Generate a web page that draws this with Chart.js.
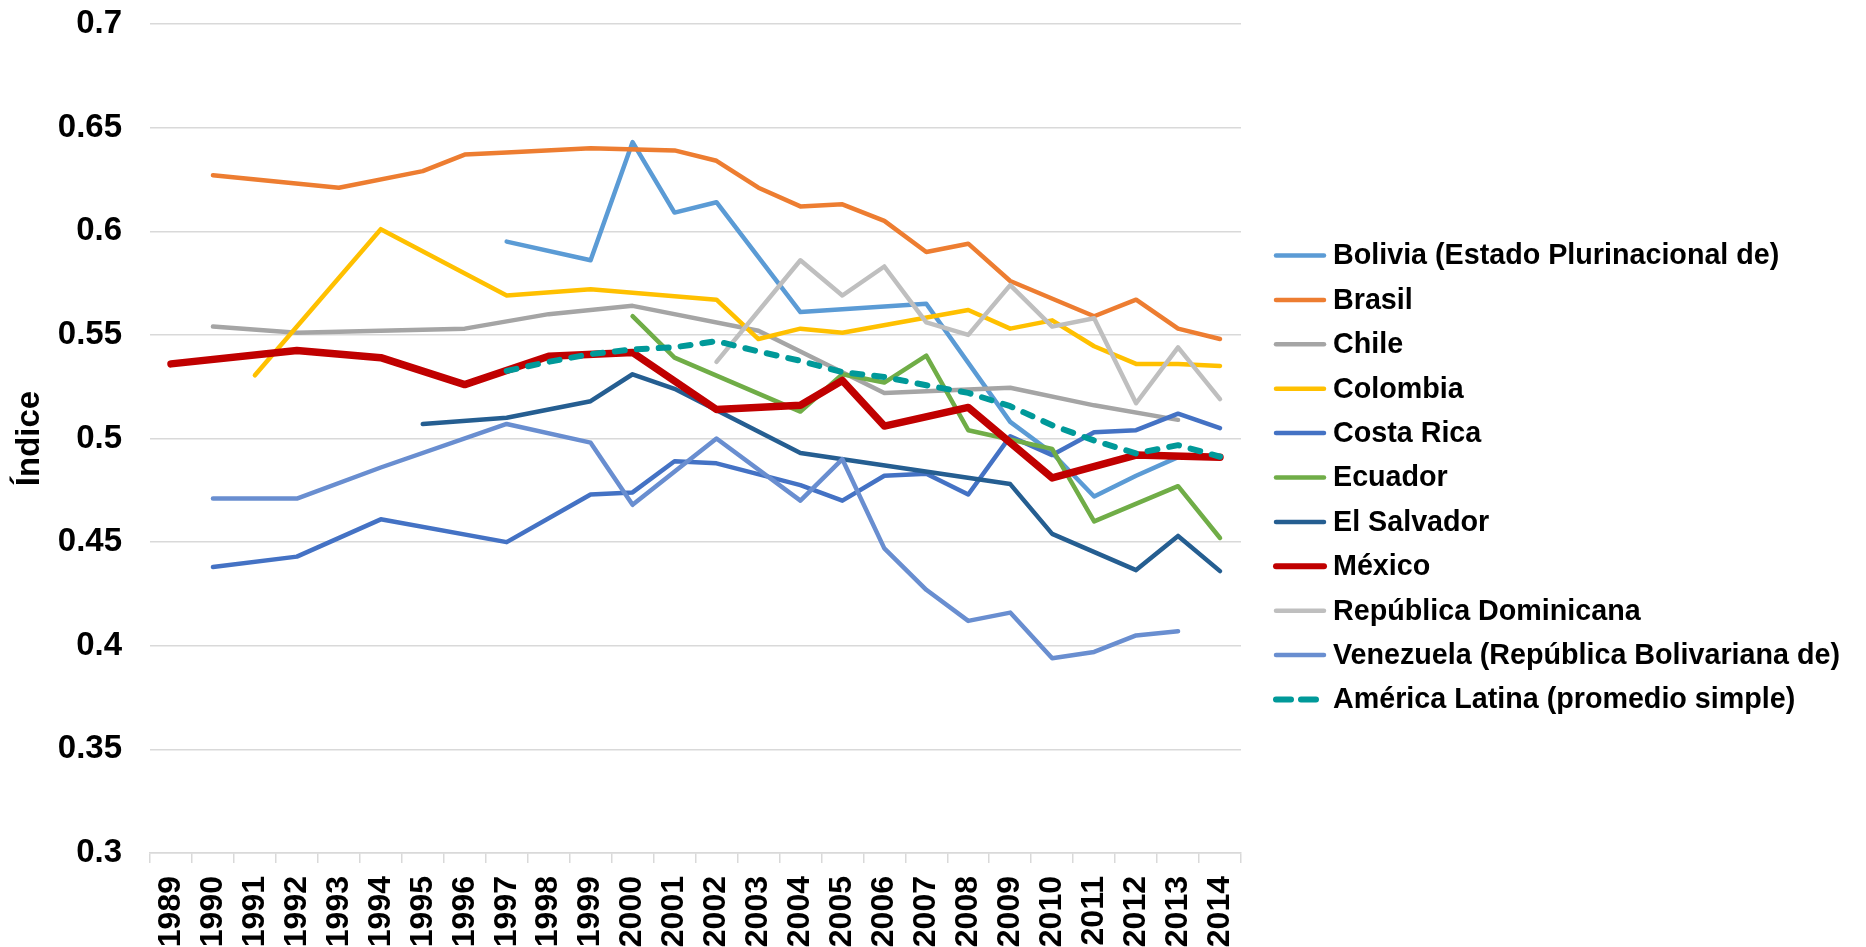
<!DOCTYPE html>
<html><head><meta charset="utf-8">
<script src="https://cdn.jsdelivr.net/npm/chart.js@4"></script>
<style>html,body{margin:0;padding:0;background:#fff;}</style>
</head><body>
<canvas id="c" width="1866" height="947"></canvas>
<script>
const years = ['1989','1990','1991','1992','1993','1994','1995','1996','1997','1998','1999','2000','2001','2002','2003','2004','2005','2006','2007','2008','2009','2010','2011','2012','2013','2014'];
const seriesNames = ['Bolivia (Estado Plurinacional de)','Brasil','Chile','Colombia','Costa Rica','Ecuador','El Salvador','México','República Dominicana','Venezuela (República Bolivariana de)','América Latina (promedio simple)'];
const yTicksMin = 0.3, yTicksMax = 0.7, yTicksStep = 0.05;
const yTitle = 'Índice';

const bolivia    = [null,null,null,null,null,null,null,null,.595,null,.586,.643,.609,.614,null,.561,null,null,.565,null,.508,.493,.472,.482,.491,null];
const brasil     = [null,.627,null,null,.621,null,.629,.637,.638,null,.640,null,.639,.634,.621,.612,.613,.605,.590,.594,.576,null,.559,.567,.553,.548];
const chile      = [null,.554,null,.551,null,.552,null,.553,null,.560,null,.564,null,null,.552,null,null,.522,null,null,.5245,null,.516,null,.509,null];
const colombia   = [null,null,.5305,null,null,.601,null,null,.569,null,.572,null,null,.567,.548,.553,.551,null,null,.562,.553,.557,.5445,.536,.536,.535];
const costaRica  = [null,.438,null,.443,null,.461,null,null,.450,null,.473,.474,.489,.488,null,.4775,.470,.482,.483,.473,.501,.492,.503,.504,.512,.505];
const ecuador    = [null,null,null,null,null,null,null,null,null,null,null,.559,.539,null,null,.513,.531,.527,.540,.504,null,.495,.460,null,.477,.452];
const elSalvador = [null,null,null,null,null,null,.507,null,.510,null,.518,.531,.524,null,null,.493,null,null,null,null,.478,.454,null,.4365,.453,.436];
const mexico     = [.536,null,null,.5425,null,.539,null,.526,null,.5397,null,.5415,null,.514,null,.516,.528,.506,null,.515,null,.481,null,.492,null,.491];
const repDom     = [null,null,null,null,null,null,null,null,null,null,null,null,null,.537,null,.586,.569,.583,.556,.550,.574,.554,.558,.517,.544,.519];
const venezuela  = [null,.471,null,.471,null,.486,null,null,.507,null,.498,.468,null,.500,null,.470,.490,.447,.427,.412,.416,.394,.397,.405,.407,null];
const americaLat = [null,null,null,null,null,null,null,null,.5326,.537,.5407,.543,.544,.547,.542,.5375,.532,.5297,.5257,.522,.5156,.5064,.499,.4928,.4968,.4912];

const FONT = '"Liberation Sans", Arial, sans-serif';
const allData = [bolivia, brasil, chile, colombia, costaRica, ecuador, elSalvador, mexico, repDom, venezuela, americaLat];
const colors = ['#5B9BD5','#ED7D31','#A5A5A5','#FFC000','#4472C4','#70AD47','#255E91','#C00000','#BFBFBF','#698ED0','#009999'];
const widths = [4.5,4.5,4.5,4.5,4.5,4.5,4.5,7.5,4.5,4.5,6];
const orders = [11,10,9,8,7,6,5,1,4,3,0];

const datasets = allData.map((d, i) => ({
  label: seriesNames[i],
  data: d,
  borderColor: colors[i],
  backgroundColor: colors[i],
  borderWidth: widths[i],
  borderDash: i === 10 ? [10, 12] : [],
  borderCapStyle: 'round',
  borderJoinStyle: 'round',
  pointRadius: 0,
  pointHoverRadius: 0,
  tension: 0,
  spanGaps: true,
  fill: false,
  order: orders[i]
}));

// legend drawn beside the plot, from the datasets' own styles
const sideLegend = {
  id: 'sideLegend',
  afterDraw(chart) {
    const ctx = chart.ctx;
    const x0 = chart.chartArea.right + 35, lineLen = 48, textX = chart.chartArea.right + 92;
    const y0 = 255.5, step = 44.4;
    ctx.save();
    chart.data.datasets.forEach((ds, i) => {
      const y = y0 + i * step;
      ctx.beginPath();
      ctx.strokeStyle = ds.borderColor;
      ctx.lineWidth = Math.min(ds.borderWidth, 6);
      ctx.lineCap = 'round';
      ctx.setLineDash(ds.borderDash && ds.borderDash.length ? [15, 10] : []);
      ctx.moveTo(x0, y);
      ctx.lineTo(x0 + lineLen, y);
      ctx.stroke();
      ctx.setLineDash([]);
      ctx.fillStyle = '#000';
      ctx.font = 'bold 28.7px ' + FONT;
      ctx.textBaseline = 'middle';
      ctx.textAlign = 'left';
      ctx.fillText(ds.label, textX, y + 1);
    });
    ctx.restore();
  }
};

new Chart(document.getElementById('c'), {
  type: 'line',
  data: { labels: years, datasets },
  plugins: [sideLegend],
  options: {
    responsive: false,
    animation: false,
    layout: { padding: { top: 24, left: 0, right: 625, bottom: 0 } },
    plugins: {
      legend: { display: false },
      tooltip: { enabled: false }
    },
    scales: {
      x: {
        offset: true,
        grid: { offset: true, drawOnChartArea: false, drawTicks: true, tickLength: 10, color: '#d9d9d9', lineWidth: 1.5 },
        border: { display: true, color: '#d9d9d9', width: 1.5 },
        ticks: { autoSkip: false, minRotation: 90, maxRotation: 90, padding: 13, color: '#000', font: { family: FONT, size: 32, weight: 'bold' } },
        afterFit(s) { s.height = 94; s.paddingLeft = 0; s.paddingRight = 0; }
      },
      y: {
        min: yTicksMin, max: yTicksMax,
        ticks: { stepSize: yTicksStep, padding: 28, color: '#000', font: { family: FONT, size: 33, weight: 'bold' },
                 callback: v => String(+(+v).toFixed(2)) },
        grid: { color: '#d9d9d9', lineWidth: 1.5, drawTicks: false },
        border: { display: false },
        title: { display: true, text: yTitle, color: '#000', font: { family: FONT, size: 33, weight: 'bold' }, padding: { top: 10, bottom: 0 } },
        afterFit(s) { s.width = 150; s.paddingTop = 0; s.paddingBottom = 0; }
      }
    }
  }
});
</script>
</body></html>
